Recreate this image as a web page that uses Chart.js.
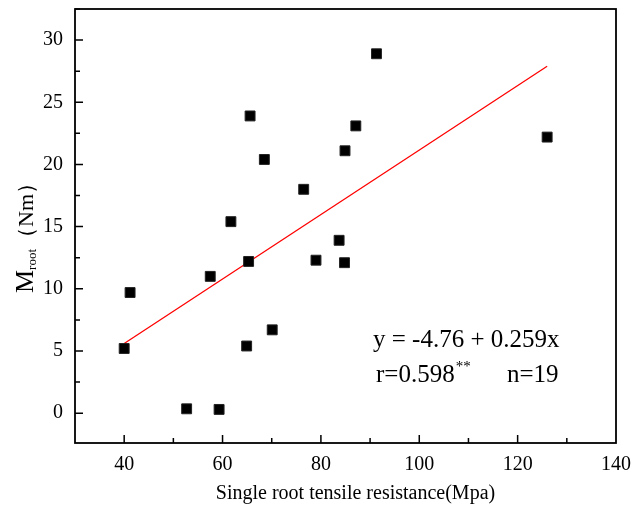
<!DOCTYPE html>
<html>
<head>
<meta charset="utf-8">
<script src="https://cdn.jsdelivr.net/npm/chart.js@4/dist/chart.umd.min.js"></script>
<style>
  html, body { margin: 0; padding: 0; background: #fff; }
  #wrap { width: 634px; height: 506px; }
</style>
</head>
<body>
<div id="wrap"><canvas id="c" width="634" height="506"></canvas></div>
<script>
// ---- data ----
const resistance = [40.0, 41.2, 52.7, 59.3, 57.5, 61.7, 65.3, 64.9, 65.6, 68.5, 70.1, 76.5, 79.0, 83.7, 84.9, 84.8, 87.1, 91.3, 126.0];
const moment     = [5.2, 9.7, 0.35, 0.3, 11.0, 15.4, 12.2, 5.4, 23.9, 20.4, 6.7, 18.0, 12.3, 13.9, 21.1, 12.1, 23.1, 28.9, 22.2];
const fitX = [40, 126];
const fitY = [5.6, 27.9];
const xTickLabels = [40, 60, 80, 100, 120, 140];
const yTickLabels = [0, 5, 10, 15, 20, 25, 30];
const xTitle = 'Single root tensile resistance(Mpa)';
const yTitleMain = 'M';
const yTitleSub = 'root';
const yTitleUnit = '（Nm）';
const eqLine = 'y = -4.76 + 0.259x';
const rText = 'r=0.598';
const rSup = '**';
const nText = 'n=19';

const SERIF = '"Liberation Serif", "Times New Roman", serif';

const points = resistance.map((x, i) => ({ x: x, y: moment[i] }));
const fitPoints = fitX.map((x, i) => ({ x: x, y: fitY[i] }));

const decor = {
  id: 'decor',
  afterDraw(chart) {
    const ctx = chart.ctx;
    const a = chart.chartArea;
    const xs = chart.scales.x, ys = chart.scales.y;
    ctx.save();
    // frame
    ctx.strokeStyle = '#000';
    ctx.lineWidth = 1.8;
    ctx.strokeRect(a.left, a.top, a.right - a.left, a.bottom - a.top);
    // inward ticks
    ctx.lineWidth = 1.5;
    ctx.beginPath();
    for (let v = 30; v <= 140; v += 10) {
      const px = xs.getPixelForValue(v);
      const len = (v % 20 === 0) ? 8 : 5;
      if (v === 30 || v === 140) continue;
      ctx.moveTo(px, a.bottom);
      ctx.lineTo(px, a.bottom - len);
    }
    for (let v = -2.5; v <= 32.5; v += 2.5) {
      if (v < ys.min || v > ys.max) continue;
      const py = ys.getPixelForValue(v);
      const len = (Math.abs(v % 5) < 1e-9) ? 8 : 5;
      ctx.moveTo(a.left, py);
      ctx.lineTo(a.left + len, py);
    }
    ctx.stroke();

    ctx.fillStyle = '#000';
    // x title
    ctx.font = '20px ' + SERIF;
    ctx.textAlign = 'center';
    ctx.textBaseline = 'alphabetic';
    ctx.fillText(xTitle, (a.left + a.right) / 2 + 10, 499);

    // y title (rotated, with subscript)
    ctx.save();
    ctx.translate(33, 293);
    ctx.rotate(-Math.PI / 2);
    ctx.textAlign = 'left';
    ctx.font = '26px ' + SERIF;
    ctx.fillText(yTitleMain, 0, 0);
    let off = ctx.measureText(yTitleMain).width;
    ctx.font = '13px ' + SERIF;
    ctx.fillText(yTitleSub, off, 3);
    off += ctx.measureText(yTitleSub).width;
    ctx.font = '22px ' + SERIF;
    ctx.fillText(yTitleUnit, off, 0);
    ctx.restore();

    // annotation
    ctx.textAlign = 'left';
    ctx.font = '25px ' + SERIF;
    ctx.fillText(eqLine, 373, 347);
    ctx.fillText(rText, 376, 382);
    const rw = ctx.measureText(rText).width;
    ctx.fillText(nText, 507, 382);
    ctx.font = '15px ' + SERIF;
    ctx.fillText(rSup, 376 + rw + 1, 371);
    ctx.restore();
  }
};

new Chart(document.getElementById('c'), {
  type: 'scatter',
  data: {
    datasets: [
      {
        label: 'data',
        data: points,
        pointStyle: 'rect',
        pointRadius: 7,
        pointHoverRadius: 7,
        backgroundColor: '#000',
        borderColor: '#222',
        borderWidth: 1,
        order: 1
      },
      {
        label: 'fit',
        type: 'line',
        data: fitPoints,
        borderColor: '#ff0000',
        borderWidth: 1.3,
        pointRadius: 0,
        fill: false,
        tension: 0,
        order: 2
      }
    ]
  },
  options: {
    responsive: false,
    animation: false,
    layout: { padding: { left: 0, right: 18, top: 9, bottom: 0 } },
    plugins: { legend: { display: false }, tooltip: { enabled: false } },
    scales: {
      x: {
        type: 'linear',
        min: 30,
        max: 140,
        grid: { display: false, drawTicks: false },
        border: { display: false },
        afterBuildTicks: (s) => { s.ticks = xTickLabels.map(v => ({ value: v })); },
        afterFit: (s) => { s.height = 63; s.paddingLeft = 0; s.paddingRight = 0; },
        ticks: {
          padding: 10,
          color: '#000',
          maxRotation: 0,
          autoSkip: false,
          font: { family: SERIF, size: 20 }
        }
      },
      y: {
        type: 'linear',
        min: -2.4,
        max: 32.5,
        grid: { display: false, drawTicks: false },
        border: { display: false },
        afterBuildTicks: (s) => { s.ticks = yTickLabels.map(v => ({ value: v })); },
        afterFit: (s) => { s.width = 75; s.paddingTop = 0; s.paddingBottom = 0; },
        ticks: {
          padding: 12,
          color: '#000',
          autoSkip: false,
          font: { family: SERIF, size: 20 }
        }
      }
    }
  },
  plugins: [decor]
});
</script>
</body>
</html>
